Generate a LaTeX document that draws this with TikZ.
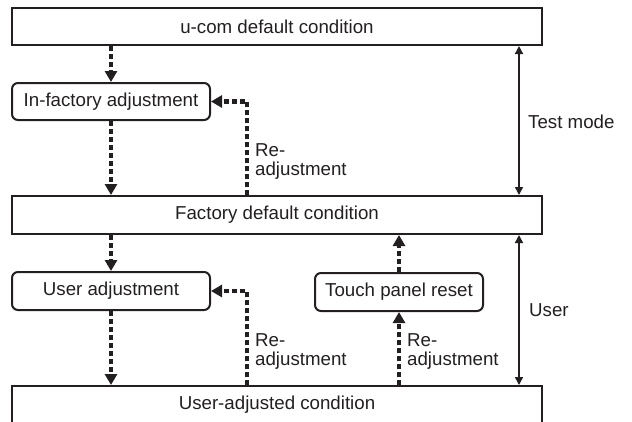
\documentclass[tikz,border=0pt]{standalone}
\usepackage{fontspec}
\setmainfont{Liberation Sans}
\usetikzlibrary{arrows.meta}
\definecolor{ink}{HTML}{231F20}
\begin{document}
\begin{tikzpicture}[x=1pt,y=-1pt,
  every node/.style={font=\fontsize{18.7}{19}\selectfont,text=ink},
  bigbox/.style={draw=ink,line width=2pt,minimum width=530pt,inner sep=0pt},
  stepbox/.style={draw=ink,line width=2pt,rounded corners=6pt,inner sep=0pt},
  flow/.style={draw=ink,line width=4.5pt,dash pattern=on 5pt off 3pt,-{Triangle[length=11pt,width=12pt]}},
  span/.style={draw=ink,line width=1.5pt,{Triangle[length=8pt,width=8pt]}-{Triangle[length=8pt,width=8pt]}},
  lbl/.style={anchor=west,align=left,inner sep=0pt}]
\useasboundingbox (0,0) rectangle (632,421);
\node[bigbox,minimum height=37pt] (ucom) at (277,26.5) {u-com default condition};
\node[bigbox,minimum height=38pt] (fac) at (277,215) {Factory default condition};
\node[bigbox,minimum height=38pt] (ua) at (277,405) {User-adjusted condition};
\node[stepbox,minimum width=198pt,minimum height=37pt] (ifa) at (111,101.5) {In-factory adjustment};
\node[stepbox,minimum width=198pt,minimum height=38pt] (uadj) at (111,291) {User adjustment};
\node[stepbox,minimum width=168pt,minimum height=38pt] (tpr) at (399,292) {Touch panel reset};
\draw[flow] (ucom.south -| ifa.north) -- (ifa.north);
\draw[flow] (ifa.south) -- (fac.north -| ifa.south);
\draw[flow] (fac.north -| 247,0) |- (ifa.east);
\draw[flow] (fac.south -| uadj.north) -- (uadj.north);
\draw[flow] (uadj.south) -- (ua.north -| uadj.south);
\draw[flow] (ua.north -| 247,0) |- (uadj.east);
\draw[flow] (ua.north -| tpr.south) -- (tpr.south);
\draw[flow] (tpr.north) -- (fac.south -| tpr.north);
\draw[span] (ucom.south -| 519,0) -- (fac.north -| 519,0);
\draw[span] (fac.south -| 519,0) -- (ua.north -| 519,0);
\node[lbl] (r1) at (255,162) {Re-\\adjustment};
\node[lbl] (r2) at (255,351.5) {Re-\\adjustment};
\node[lbl] (r3) at (407,351.5) {Re-\\adjustment};
\node[lbl] (tm) at (528,122) {Test mode};
\node[lbl] (us) at (529,310) {User};
\end{tikzpicture}
\end{document}
